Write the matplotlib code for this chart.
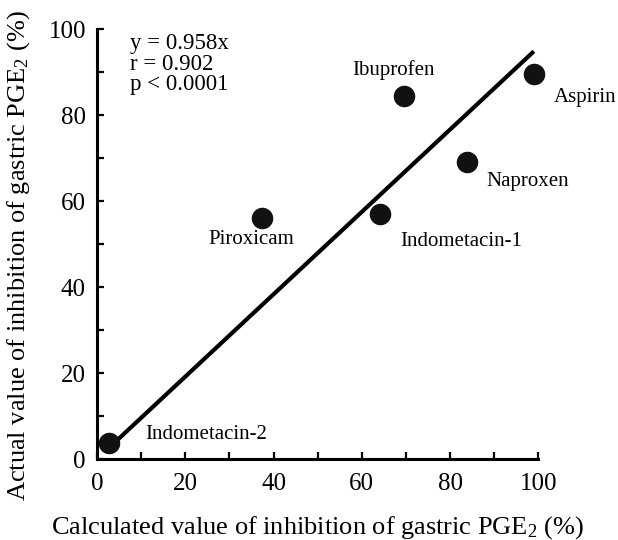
import matplotlib
matplotlib.use('Agg')
import matplotlib.pyplot as plt
from matplotlib.ticker import MultipleLocator
import numpy as np

plt.rcParams['font.family'] = ['Liberation Serif', 'DejaVu Serif']
plt.rcParams['mathtext.fontset'] = 'custom'
plt.rcParams['mathtext.rm'] = 'Liberation Serif'
plt.rcParams['mathtext.it'] = 'Liberation Serif:italic'

# data
drugs = ['Indometacin-2', 'Piroxicam', 'Indometacin-1', 'Ibuprofen', 'Naproxen', 'Aspirin']
calculated = [2.7, 37.4, 64.2, 69.6, 83.9, 99.1]
actual = [3.7, 56.0, 57.0, 84.4, 69.1, 89.5]
slope = 0.958
fit_range = [3.0, 99.0]

# label offsets in points (left edge, vertical centre) relative to each point
label_offsets = [(26, 6), (-39, -15), (14, -20), (-37, 19), (14, -14), (14, -17)]

fig = plt.figure(figsize=(6.18, 5.40), dpi=100)
ax = fig.add_axes([0.157, 0.15, 0.714, 0.796])

fx = np.array(fit_range)
ax.plot(fx, slope * fx, color='black', lw=3, solid_capstyle='butt', zorder=2)
ax.scatter(calculated, actual, s=210, color='#111111', zorder=3, clip_on=False)

for name, x, y, off in zip(drugs, calculated, actual, label_offsets):
    ax.annotate(name, xy=(x, y), xytext=off, textcoords='offset points',
                ha='left', va='center', fontsize=15)

ax.text(0.075, 0.99, 'y = 0.958x\nr = 0.902\np < 0.0001', transform=ax.transAxes,
        ha='left', va='top', fontsize=16.5, linespacing=0.95)

ax.set_xlim(0, 100)
ax.set_ylim(0, 100)
ax.spines['top'].set_visible(False)
ax.spines['right'].set_visible(False)
ax.spines['left'].set_linewidth(2.2)
ax.spines['bottom'].set_linewidth(2.2)
ax.xaxis.set_major_locator(MultipleLocator(20))
ax.yaxis.set_major_locator(MultipleLocator(20))
ax.xaxis.set_minor_locator(MultipleLocator(10))
ax.yaxis.set_minor_locator(MultipleLocator(10))
ax.tick_params(which='both', direction='in', length=5, width=1.6, labelsize=18)
ax.tick_params(axis='x', pad=10)
ax.tick_params(axis='y', pad=8)

ax.set_xlabel('Calculated value of inhibition of gastric PGE$_2$ (%)', fontsize=19, labelpad=14)
ax.set_ylabel('Actual value of inhibition of gastric PGE$_2$ (%)', fontsize=19)
ax.yaxis.set_label_coords(-0.147, 0.472)

fig.savefig('out.png', dpi=100)
